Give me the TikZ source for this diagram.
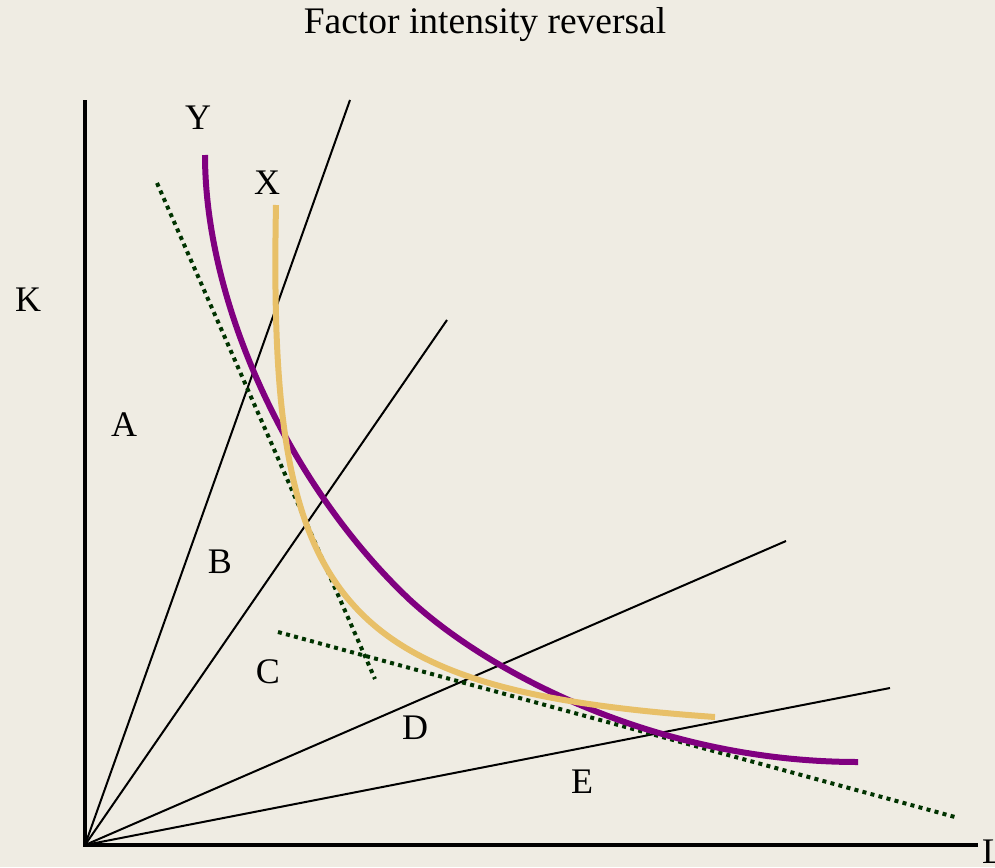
\documentclass[tikz,border=0pt]{standalone}
\usepackage{fontspec}
\setmainfont{Liberation Serif}
\definecolor{bg}{HTML}{EFECE3}
\definecolor{ycol}{HTML}{800080}
\definecolor{xcol}{HTML}{E8C068}
\definecolor{dotcol}{HTML}{003300}
\begin{document}
\begin{tikzpicture}[x=1pt,y=-1pt,
  lbl/.style={font=\fontsize{36}{40}\selectfont, inner sep=0pt},
  ttl/.style={font=\fontsize{37.5}{42}\selectfont, inner sep=0pt},
  axis/.style={line width=4pt, black},
  ray/.style={line width=2pt, black},
  isoq/.style={line width=6pt, line cap=butt},
  budget/.style={line width=4pt, dotcol, dash pattern=on 4pt off 4.3pt}]
\fill[bg] (0,0) rectangle (995,867);
\useasboundingbox (0,0) rectangle (995,867);
\node[ttl] (title) at (485,25) {Factor intensity reversal};
\coordinate (O) at (85,845);
\coordinate (ktop) at (85,100);
\coordinate (lend) at (978,845);
\coordinate (r1) at (350,100);
\coordinate (r2) at (447,320);
\coordinate (r3) at (786,541);
\coordinate (r4) at (890,688);
\coordinate (b1s) at (157,183);
\coordinate (b1e) at (375,679);
\coordinate (b2s) at (278,632);
\coordinate (b2e) at (955,817);
\coordinate (ys) at (205,155);
\coordinate (ym) at (410,600);
\coordinate (ye) at (858,762);
\coordinate (xs) at (276,205);
\coordinate (xe) at (715,717);
\draw[ray] (O) -- (r1);
\draw[ray] (O) -- (r2);
\draw[ray] (O) -- (r3);
\draw[ray] (O) -- (r4);
\draw[budget] (b1s) -- (b1e);
\draw[budget] (b2s) -- (b2e);
\draw[isoq, ycol] (ys) .. controls (205,305) and (290,487) .. (ym)
  .. controls (490,673.6) and (658,762) .. (ye);
\draw[isoq, xcol] (xs) .. controls (268,600) and (330,690) .. (xe);
\draw[axis] (ktop) -- (O) -- (lend);
\node[lbl] (K) at (28,300) {K};
\node[lbl] (L) at (993,852) {L};
\node[lbl] (Y) at (198,118) {Y};
\node[lbl] (X) at (267,183) {X};
\node[lbl] (A) at (124,425) {A};
\node[lbl] (B) at (220,562) {B};
\node[lbl] (C) at (268,672) {C};
\node[lbl] (D) at (415,728) {D};
\node[lbl] (E) at (582,782) {E};
\end{tikzpicture}
\end{document}
